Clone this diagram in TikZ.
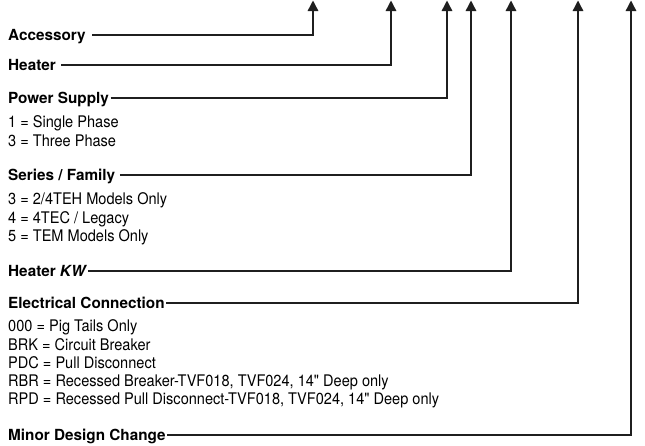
\documentclass[tikz,border=0pt]{standalone}
\usepackage{fontspec}
\setmainfont{TeX Gyre Heros}
\newfontfamily\condfont[FakeStretch=0.91]{TeX Gyre Heros}
\usetikzlibrary{arrows.meta,positioning}

\begin{document}
\begin{tikzpicture}[
  x=1pt, y=-1pt,
  head/.style={anchor=west, inner xsep=1.5pt, inner ysep=0pt, text height=11pt, text depth=0pt,
    font=\fontsize{15.3}{18}\selectfont\bfseries},
  items/.style={inner sep=0pt, align=left, font=\condfont\fontsize{16}{18.2}\selectfont},
  lead/.style={-{Triangle[length=10.5pt,width=10.5pt]}, line width=1.4pt, draw=black!88},
]
\useasboundingbox (0,0) rectangle (645,445);

% arrow tips along the top edge
\coordinate (accTip) at (313,0.5);
\coordinate (htrTip) at (391,0.5);
\coordinate (pwrTip) at (447,0.5);
\coordinate (serTip) at (471,0.5);
\coordinate (kwTip)  at (511,0.5);
\coordinate (elecTip) at (578,0.5);
\coordinate (mdcTip) at (631,0.5);

% headings
\node[head] (acc)  at (6.5,35)  {Accessory};
\node[head] (htr)  at (6.5,65)  {Heater};
\node[head] (pwr)  at (6.5,98)  {Power Supply};
\node[head] (ser)  at (6.5,175) {Series / Family};
\node[head] (kw)   at (6.5,271) {Heater \textit{KW}};
\node[head] (elec) at (6.5,303) {Electrical Connection};
\node[head] (mdc)  at (6.5,435) {Minor Design Change};

% option lists
\node[items, below right=12pt and 1.5pt of pwr.south west] (pwrList)
  {1 = Single Phase\\3 = Three Phase};
\node[items, below right=12pt and 1.5pt of ser.south west] (serList)
  {3 = 2/4TEH Models Only\\4 = 4TEC / Legacy\\5 = TEM Models Only};
\node[items, below right=11pt and 1.5pt of elec.south west] (elecList)
  {000 = Pig Tails Only\\BRK = Circuit Breaker\\PDC = Pull Disconnect\\
   RBR = Recessed Breaker-TVF018, TVF024, 14" Deep only\\
   RPD = Recessed Pull Disconnect-TVF018, TVF024, 14" Deep only};

% leaders
\draw[lead] ([xshift=5pt]acc.east) -| (accTip);
\draw[lead] ([xshift=4pt]htr.east) -| (htrTip);
\draw[lead] (pwr.east) -| (pwrTip);
\draw[lead] ([xshift=3pt]ser.east) -| (serTip);
\draw[lead] ([xshift=-1pt]kw.east) -| (kwTip);
\draw[lead] (elec.east) -| (elecTip);
\draw[lead] (mdc.east) -| (mdcTip);
\end{tikzpicture}
\end{document}
